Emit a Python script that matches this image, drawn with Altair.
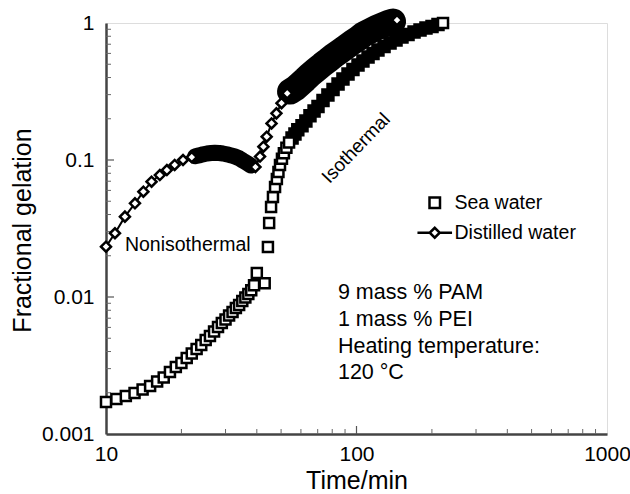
import altair as alt
import pandas as pd

FONT = "Liberation Sans"

# ---------------- data ----------------
# Sea water (squares)
sea_t = [10, 11, 12, 13, 14, 15, 16, 17, 18, 19, 20, 21, 22, 23, 24, 25, 26, 27, 28, 29,
         30, 31, 32, 33, 34, 35, 36, 37, 38, 39, 40, 43,
         44.3, 44.8, 45.6, 46.4, 47.3, 48.1, 48.8,
         49.5, 50.4, 51.3, 52.5, 53.8, 55.3, 56.8, 58.3,
         60.6, 62.8, 65.2, 67.7, 70.2, 73.5, 76.9, 80.6, 84.4, 88.3,
         92.5, 96.8, 101.4, 106.1, 111.2, 116.4, 121.8, 128.8, 136.1, 143.8,
         151.9, 160.6, 169.7, 179.3, 189.4, 200.2, 211.5, 221.5]
sea_y = [0.00171, 0.00180, 0.00189, 0.00199, 0.00211, 0.00224, 0.00242, 0.00258, 0.00284, 0.00309,
         0.00330, 0.00359, 0.00387, 0.00417, 0.00446, 0.00486, 0.00519, 0.00560, 0.00604, 0.00646,
         0.00685, 0.00733, 0.00778, 0.00832, 0.00875, 0.00935, 0.00991, 0.0105, 0.0112, 0.0122,
         0.0150, 0.0126,
         0.0232, 0.0347, 0.0454, 0.0537, 0.0635, 0.0727, 0.0817,
         0.092, 0.102, 0.112, 0.123, 0.134, 0.145, 0.155, 0.166,
         0.178, 0.193, 0.210, 0.228, 0.246, 0.272, 0.298, 0.327, 0.359, 0.390,
         0.424, 0.458, 0.494, 0.528, 0.565, 0.599, 0.635, 0.674, 0.715, 0.751,
         0.790, 0.824, 0.860, 0.889, 0.919, 0.943, 0.975, 1.0]

# Distilled water (diamonds + line)
dis_t = [10, 10.86, 11.9, 13.05, 14.1, 15.2, 16.4, 17.5, 18.8, 20.3, 22.0,
         22.7, 23.5, 24.4, 25.3, 26.3, 27.2, 28.3, 29.3, 30.4, 31.6, 32.7, 34.0, 35.2, 36.6, 37.9,
         39.5, 41.2, 42.5, 43.8, 45.8, 47.9, 50.2, 52.9,
         54.3, 56.9, 59.6, 62.4, 65.2, 68.8, 72.8, 76.9, 81.2, 85.9, 90.8,
         95.9, 101.4, 107.1, 113.2, 119.6, 126.4, 133.6, 139.9, 145.1]
dis_y = [0.0233, 0.0292, 0.0386, 0.0483, 0.0587, 0.0695, 0.0777, 0.0845, 0.092, 0.100, 0.105,
         0.1065, 0.108, 0.110, 0.1115, 0.1125, 0.113, 0.1125, 0.1115, 0.110, 0.108, 0.106, 0.103,
         0.099, 0.095, 0.091,
         0.0889, 0.106, 0.125, 0.148, 0.185, 0.219, 0.26, 0.307,
         0.316, 0.333, 0.359, 0.387, 0.418, 0.454, 0.494, 0.533, 0.578, 0.621, 0.668,
         0.719, 0.768, 0.831, 0.874, 0.920, 0.959, 1.0, 1.025, 1.05]

series_names = ["Sea water", "Distilled water"]

# axis ticks
y_major = [0.001, 0.01, 0.1, 1]
x_major = [10, 100, 1000]
y_minor = [0.002, 0.003, 0.004, 0.005, 0.006, 0.007, 0.008, 0.009,
           0.02, 0.03, 0.04, 0.05, 0.06, 0.07, 0.08, 0.09,
           0.2, 0.3, 0.4, 0.5, 0.6, 0.7, 0.8, 0.9]
y_inner_major = [0.01, 0.1]
x_minor = [20, 30, 40, 50, 60, 70, 80, 90, 200, 300, 400, 500, 600, 700, 800, 900]
x_inner_major = [100]

# annotations
noniso_label = ["Nonisothermal"]
noniso_t = [11.9]
noniso_y = [0.024]
iso_label = ["Isothermal"]
iso_t = [99.5]
iso_y = [0.122]
info_lines = ["9 mass % PAM", "1 mass % PEI", "Heating temperature:", "120 °C"]
info_t = [84.3, 84.3, 84.3, 84.3]
info_y = [0.0107, 0.00679, 0.00434, 0.00279]

# ---------------- chart ----------------
W, H = 501, 411

xscale = alt.Scale(type="log", domain=[10, 1000], nice=False)
yscale = alt.Scale(type="log", domain=[0.001, 1], nice=False)

xaxis = alt.Axis(values=x_major, format="~g", title="Time/min", ticks=False, grid=False,
                 labelPadding=9, titlePadding=4, domainColor="#444", domainWidth=2.5,
                 labelFontSize=21, titleFontSize=25, labelColor="black", titleColor="black",
                 titleFontWeight="normal", labelFont=FONT, titleFont=FONT, labelFlush=False)
yaxis = alt.Axis(values=y_major, format="~g", title="Fractional gelation", ticks=False, grid=False,
                 labelPadding=12, domainColor="#444", domainWidth=2.5,
                 labelFontSize=21, titleFontSize=25, labelColor="black", titleColor="black",
                 titleFontWeight="normal", labelFont=FONT, titleFont=FONT, labelFlush=False,
                 titleX=-84, titleY=207, titleAngle=270, titleAlign="center",
                 titleBaseline="middle")


def X(f):
    return alt.X(f"{f}:Q", scale=xscale, axis=xaxis)


def Y(f):
    return alt.Y(f"{f}:Q", scale=yscale, axis=yaxis)


sea_df = pd.DataFrame({"t": sea_t, "y": sea_y, "series": series_names[0]})
dis_df = pd.DataFrame({"t": dis_t, "y": dis_y, "series": series_names[1]})

# inward ticks
ytick_minor = alt.Chart(pd.DataFrame({"v": y_minor})).mark_rule(color="#666", strokeWidth=1).encode(
    y=Y("v"), x=alt.value(0), x2=alt.value(5))
ytick_major = alt.Chart(pd.DataFrame({"v": y_inner_major})).mark_rule(color="#555", strokeWidth=1.2).encode(
    y=Y("v"), x=alt.value(0), x2=alt.value(8))
xtick_minor = alt.Chart(pd.DataFrame({"v": x_minor})).mark_rule(color="#666", strokeWidth=1).encode(
    x=X("v"), y=alt.value(H), y2=alt.value(H - 5))
xtick_major = alt.Chart(pd.DataFrame({"v": x_inner_major})).mark_rule(color="#555", strokeWidth=1.2).encode(
    x=X("v"), y=alt.value(H), y2=alt.value(H - 8))

dense_dis = "(datum.t > 22.5 && datum.t < 38.5) || (datum.t > 53.5 && datum.t < 142)"

dis_line = alt.Chart(dis_df).mark_line(color="black", strokeWidth=2).encode(x=X("t"), y=Y("y"))
dis_band = alt.Chart(dis_df).transform_filter(dense_dis).transform_calculate(
    seg="datum.t < 39 ? 'a' : 'b'").mark_line(
    color="black", strokeCap="round", strokeJoin="round").encode(
    x=X("t"), y=Y("y"), detail="seg:N",
    strokeWidth=alt.StrokeWidth("seg:N", scale=alt.Scale(domain=["a", "b"], range=[16, 26]), legend=None))
dis_dense = alt.Chart(dis_df).transform_filter(dense_dis).mark_point(
    shape="diamond", filled=True, fill="black", stroke="black", strokeWidth=2.5, size=100, opacity=1).encode(
    x=X("t"), y=Y("y"))
dis_white = alt.Chart(dis_df).transform_filter("!(" + dense_dis + ")").mark_point(
    shape="diamond", filled=True, fill="white", stroke="black", strokeWidth=2.5, size=100, opacity=1).encode(
    x=X("t"), y=Y("y"))

dense_sea = "datum.t >= 55 && datum.t <= 215"
sea_dense = alt.Chart(sea_df).transform_filter(dense_sea).mark_point(
    shape="square", filled=True, fill="black", stroke="black", strokeWidth=2.5, size=121, opacity=1).encode(
    x=X("t"), y=Y("y"))

LEG_PATH = "M-3.3,0L-0.95,0M-0.95,0L0,-0.95L0.95,0L0,0.95ZM0.95,0L3.3,0"
leg = alt.Legend(orient="none", legendX=319, legendY=170, title=None,
                 labelFontSize=19.5, labelFont=FONT, labelColor="black",
                 symbolSize=110, symbolStrokeWidth=2.5, symbolOpacity=1,
                 labelOffset=10, rowPadding=9, padding=0)
sea_white = alt.Chart(sea_df).transform_filter("!(" + dense_sea + ")").mark_point(
    filled=True, strokeWidth=2.5, size=100, opacity=1).encode(
    x=X("t"), y=Y("y"),
    shape=alt.Shape("series:N", scale=alt.Scale(domain=series_names, range=["square", LEG_PATH]), legend=leg),
    stroke=alt.Stroke("series:N", scale=alt.Scale(domain=series_names, range=["black", "black"]), legend=leg),
    fill=alt.Fill("series:N", scale=alt.Scale(domain=series_names, range=["white", "white"]), legend=leg),
)

t1 = alt.Chart(pd.DataFrame({"t": noniso_t, "y": noniso_y, "s": noniso_label})).mark_text(
    align="left", baseline="middle", fontSize=19.5, font=FONT, color="black").encode(
    x=X("t"), y=Y("y"), text="s:N")
t2 = alt.Chart(pd.DataFrame({"t": iso_t, "y": iso_y, "s": iso_label})).mark_text(
    align="center", baseline="middle", fontSize=19, font=FONT, color="black", angle=314).encode(
    x=X("t"), y=Y("y"), text="s:N")
t3 = alt.Chart(pd.DataFrame({"t": info_t, "y": info_y, "s": info_lines})).mark_text(
    align="left", baseline="middle", fontSize=21.5, font=FONT, color="black").encode(
    x=X("t"), y=Y("y"), text="s:N")

chart = alt.layer(
    ytick_minor, ytick_major, xtick_minor, xtick_major,
    dis_line, dis_band, dis_dense, dis_white, sea_dense, sea_white,
    t1, t2, t3
).properties(
    width=W, height=H,
    autosize=alt.AutoSizeParams(type="none"),
    padding={"left": 106, "top": 23, "right": 23, "bottom": 60},
).configure_view(stroke="black", strokeWidth=2).configure(font=FONT, background="white")

chart.save("out.html", embed_options={"renderer": "svg", "actions": False})
